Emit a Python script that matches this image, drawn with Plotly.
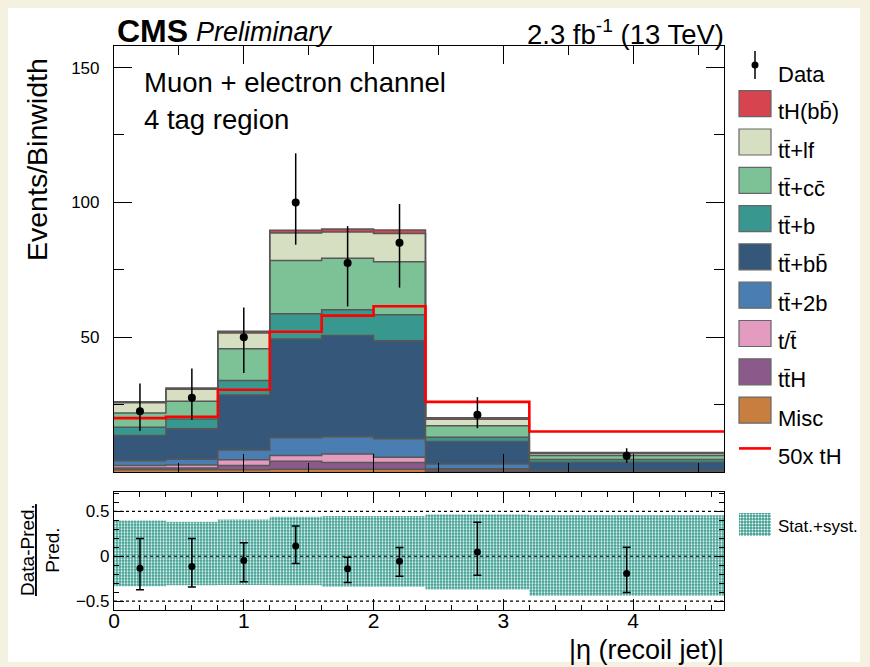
import plotly.graph_objects as go

W, H = 870, 667

# ---------------- binning ----------------
edges = [0.0, 0.4, 0.8, 1.2, 1.6, 2.0, 2.4, 3.2, 4.7]
centers = [(a + b) / 2 for a, b in zip(edges[:-1], edges[1:])]
widths = [b - a for a, b in zip(edges[:-1], edges[1:])]

# ---------------- expected yields (events / bin width) ----------------
misc = [0.8, 0.8, 0.8, 1.0, 1.0, 1.0, 0.2, 0.05]
tth = [0.7, 0.7, 1.6, 3.0, 2.5, 2.5, 0.6, 0.10]
single_t = [0.9, 1.1, 2.1, 2.1, 3.2, 2.0, 0.4, 0.10]
tt_2b = [1.8, 2.1, 3.7, 6.6, 6.4, 6.8, 1.8, 0.25]
tt_bb = [9.3, 11.3, 20.4, 36.6, 37.5, 36.4, 8.3, 3.1]
tt_b = [3.1, 3.7, 5.3, 9.4, 9.6, 9.6, 1.6, 1.0]
tt_cc = [5.3, 6.5, 11.8, 19.7, 19.1, 19.7, 4.3, 1.5]
tt_lf = [3.8, 4.5, 5.9, 10.2, 9.7, 10.5, 2.4, 0.8]
th_bb = [0.40, 0.41, 0.61, 1.04, 1.16, 1.23, 0.52, 0.30]
th_scale = 50

# ---------------- observed data ----------------
data = [22.5, 27.5, 50.0, 100.0, 77.5, 85.0, 21.25, 6.0]
data_err_up = [10.3, 10.9, 11.0, 18.2, 13.7, 14.4, 6.5, 2.8]
data_err_dn = [7.3, 8.1, 13.3, 15.7, 16.1, 16.6, 5.0, 2.6]

# ---------------- ratio panel ----------------
ratio = [-0.134, -0.115, -0.048, 0.115, -0.141, -0.056, 0.048, -0.193]
ratio_err_up = [0.331, 0.312, 0.197, 0.223, 0.130, 0.153, 0.331, 0.293]
ratio_err_dn = [0.241, 0.227, 0.238, 0.197, 0.153, 0.167, 0.260, 0.212]
band_hi = [0.40, 0.385, 0.41, 0.44, 0.45, 0.45, 0.465, 0.457]
band_lo = [-0.335, -0.325, -0.32, -0.325, -0.34, -0.34, -0.37, -0.44]

BAR = "\u0304"  # combining macron for anti-particles

# stack order: bottom first
processes = [
    ("Misc", misc, "#c87e3e"),
    ("tt" + BAR + "H", tth, "#8b5a8a"),
    ("t/t" + BAR, single_t, "#e39bbf"),
    ("tt" + BAR + "+2b", tt_2b, "#4a7db1"),
    ("tt" + BAR + "+bb" + BAR, tt_bb, "#355779"),
    ("tt" + BAR + "+b", tt_b, "#389890"),
    ("tt" + BAR + "+cc" + BAR, tt_cc, "#7dc296"),
    ("tt" + BAR + "+lf", tt_lf, "#d6dfc1"),
    ("tH(bb" + BAR + ")", th_bb, "#d5444f"),
]

FONT = "Liberation Sans, Arial, Helvetica, sans-serif"
OUTLINE = "#575757"
BAND = "#3fa093"


def px(x):
    return x / W


def py(y):
    return 1 - y / H


def step(vals):
    return list(vals) + [vals[-1]]


fig = go.Figure()

# stacked histogram as filled step areas
cum = [0.0] * len(centers)
for i, (name, vals, col) in enumerate(processes):
    cum = [c + v for c, v in zip(cum, vals)]
    fig.add_trace(go.Scatter(
        x=edges, y=step(cum), mode="lines", line_shape="hv",
        line=dict(color=OUTLINE, width=1.5),
        fill="tozeroy" if i == 0 else "tonexty", fillcolor=col,
        showlegend=False, hoverinfo="skip", xaxis="x", yaxis="y"))

# scaled tH signal
fig.add_trace(go.Scatter(
    x=edges, y=step([th_scale * v for v in th_bb]), mode="lines",
    line_shape="hv", line=dict(color="#ff0000", width=2.6),
    showlegend=False, xaxis="x", yaxis="y"))

# data points
fig.add_trace(go.Scatter(
    x=centers, y=data, mode="markers",
    marker=dict(color="black", size=8),
    error_y=dict(type="data", symmetric=False, array=data_err_up,
                 arrayminus=data_err_dn, color="black", thickness=1.5, width=0),
    showlegend=False, xaxis="x", yaxis="y"))

band_marker = dict(color=BAND, line=dict(width=0),
                   pattern=dict(shape=".", fgcolor="white", bgcolor=BAND,
                                size=3, solidity=0.35, fillmode="replace"))

# uncertainty band in the ratio panel
fig.add_trace(go.Bar(
    x=centers, y=[h - l for h, l in zip(band_hi, band_lo)], base=band_lo,
    width=widths, marker=band_marker,
    showlegend=False, xaxis="x2", yaxis="y2"))

# ratio points
fig.add_trace(go.Scatter(
    x=centers, y=ratio, mode="markers",
    marker=dict(color="black", size=7),
    error_y=dict(type="data", symmetric=False, array=ratio_err_up,
                 arrayminus=ratio_err_dn, color="black", thickness=1.5, width=4),
    showlegend=False, xaxis="x2", yaxis="y2"))

# swatch for the band legend entry
fig.add_trace(go.Bar(
    x=[0.5], y=[1], width=[1], marker=band_marker,
    showlegend=False, xaxis="x3", yaxis="y3"))

x_dom = [px(114), px(724)]
axis_common = dict(showline=True, linecolor="black", linewidth=1.2,
                   mirror="ticks", ticks="inside", tickcolor="black",
                   tickwidth=1, showgrid=False, zeroline=False,
                   automargin=False)


def tickfont(size):
    return dict(family=FONT, size=size, color="black")


fig.update_layout(
    width=W, height=H, margin=dict(l=0, r=0, t=0, b=0, pad=0),
    paper_bgcolor="#f4f1e1", plot_bgcolor="white",
    barmode="overlay", font=dict(family=FONT, color="black"),
    xaxis=dict(domain=x_dom, range=[0, 4.7], anchor="y",
               dtick=1, tick0=0, ticklen=18, showticklabels=False,
               minor=dict(dtick=0.5, tick0=0, ticklen=9, ticks="inside",
                          tickcolor="black"),
               **axis_common),
    yaxis=dict(domain=[py(472), py(46)], range=[0, 158], anchor="x",
               tickmode="array", tickvals=[0, 50, 100, 150],
               ticktext=["", "50", "100", "150"], ticklen=18,
               ticklabelstandoff=10, tickfont=tickfont(17),
               minor=dict(dtick=25, tick0=0, ticklen=10, ticks="inside",
                          tickcolor="black"),
               **axis_common),
    xaxis2=dict(domain=x_dom, range=[0, 4.7], anchor="y2",
                dtick=1, tick0=0, ticklen=11, ticklabelstandoff=-8,
                tickfont=tickfont(21),
                minor=dict(dtick=0.2, tick0=0, ticklen=5, ticks="inside",
                           tickcolor="black"),
                **axis_common),
    yaxis2=dict(domain=[py(610), py(491.7)], range=[-0.6, 0.72], anchor="x2",
                tickmode="array", tickvals=[-0.5, 0, 0.5],
                ticktext=["\u22120.5", "0", "0.5"], ticklen=10,
                ticklabelstandoff=0, tickfont=tickfont(17),
                minor=dict(dtick=0.1, tick0=0, ticklen=5, ticks="inside",
                           tickcolor="black"),
                **axis_common),
    xaxis3=dict(domain=[px(739), px(771)], range=[0, 1], anchor="y3",
                visible=False, fixedrange=True, automargin=False),
    yaxis3=dict(domain=[py(536), py(513)], range=[0, 1], anchor="x3",
                visible=False, fixedrange=True, automargin=False),
)

shapes = []
# white canvas
shapes.append(dict(type="rect", xref="paper", yref="paper", layer="below",
                   x0=px(8), x1=px(860), y0=py(662), y1=py(8),
                   fillcolor="white", line=dict(width=0)))
# dotted reference lines in the ratio panel
for v in (-0.5, 0.0, 0.5):
    shapes.append(dict(type="line", xref="x2", yref="y2", x0=0, x1=4.7,
                       y0=v, y1=v, line=dict(color="black", width=1.2, dash="dot")))

annotations = []


def text(x, y, s, size, xanchor="left", **kw):
    annotations.append(dict(x=px(x), y=py(y), xref="paper", yref="paper",
                            text=s, showarrow=False, xanchor=xanchor,
                            yanchor="middle", borderpad=0,
                            font=dict(family=FONT, size=size, color="black"),
                            **kw))


text(116, 31, "<b>CMS</b>", 32)
text(195, 32, "<i>Preliminary</i>", 27)
text(725, 32, "2.3 fb<sup>-1</sup> (13 TeV)", 27.5, xanchor="right")
text(143, 83, "Muon + electron channel", 27.5)
text(143, 119, "4 tag region", 27.5)
text(37, 160, "Events/Binwidth", 28.5, xanchor="center", textangle=-90)
text(40, 550, "<u>Data-Pred.</u><br>Pred.", 19, xanchor="center",
     textangle=-90, align="center")
text(725, 650, "|\u03b7 (recoil jet)|", 27, xanchor="right")

# legend: data
shapes.append(dict(type="line", xref="paper", yref="paper",
                   x0=px(755), x1=px(755), y0=py(51), y1=py(79),
                   line=dict(color="black", width=1.5)))
shapes.append(dict(type="circle", xref="paper", yref="paper",
                   x0=px(751.5), x1=px(758.5), y0=py(68.5), y1=py(61.5),
                   fillcolor="black", line=dict(color="black", width=0)))
text(777, 74, "Data", 22)

# legend: stacked processes, top of the stack first
row0, row_step = 90.7, 38.3
for i, (name, vals, col) in enumerate(reversed(processes)):
    top = row0 + i * row_step
    shapes.append(dict(type="rect", xref="paper", yref="paper",
                       x0=px(739), x1=px(771), y0=py(top + 26), y1=py(top),
                       fillcolor=col, line=dict(color="#666666", width=1.2)))
    text(777, top + 21, name, 22)

# legend: scaled signal
sig_y = row0 + 13 + 9 * row_step
shapes.append(dict(type="line", xref="paper", yref="paper",
                   x0=px(739), x1=px(771), y0=py(sig_y), y1=py(sig_y),
                   line=dict(color="#ff0000", width=2.6)))
text(777, sig_y + 8, "%dx tH" % th_scale, 22)

# legend: band
text(777, 526, "Stat.+syst.", 17)

fig.update_layout(shapes=shapes, annotations=annotations)
fig.write_html("out.html")
